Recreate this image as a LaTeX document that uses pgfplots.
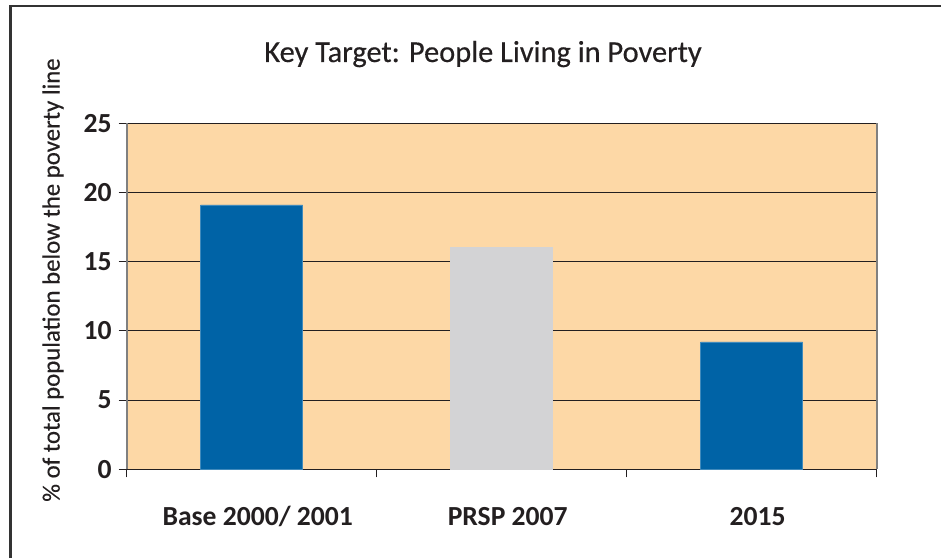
\documentclass[border=0pt]{standalone}
\usepackage{fontspec}
\setmainfont{Carlito}
\newfontfamily\medfont[FakeBold=0.4]{Carlito}
\usepackage{pgfplots}
\pgfplotsset{compat=1.18}

\definecolor{framegray}{RGB}{51,51,51}
\definecolor{plotbg}{RGB}{253,216,166}
\definecolor{barblue}{RGB}{0,99,166}
\definecolor{bargray}{RGB}{211,211,213}
\definecolor{textdark}{RGB}{35,31,32}

\begin{document}
\begin{tikzpicture}
% page: 941 x 558 px at 0.5pt per px
\path[use as bounding box] (0,0) rectangle (470.5pt,279pt);
\draw[framegray, line width=1.3pt] (5.25pt,0pt) -- (5.25pt,276pt) -- (470.5pt,276pt);

\begin{axis}[
  at={(63.35pt,44.35pt)}, anchor=south west,
  scale only axis,
  width=375pt, height=173pt,
  xmin=-0.5, xmax=2.5,
  ymin=0, ymax=25,
  xtick={0,1,2},
  xticklabels={Base 2000/ 2001, PRSP 2007, 2015},
  minor xtick={-0.5,0.5,1.5,2.5},
  ytick={0,5,10,15,20,25},
  xtick pos=bottom, ytick pos=left,
  tick align=outside,
  major x tick style={draw=none},
  minor x tick style={textdark, line width=0.5pt},
  minor tick length=4pt,
  major tick length=4pt,
  y tick style={textdark, line width=0.5pt},
  separate axis lines,
  x axis line style={textdark, line width=0.6pt},
  y axis line style={gray, line width=0.8pt},
  ymajorgrids,
  grid style={textdark, line width=0.45pt},
  axis background/.style={fill=plotbg},
  /pgf/number format/assume math mode=true,
  ticklabel style={font=\fontsize{13.8}{16}\selectfont\bfseries, text=textdark},
  xticklabel style={anchor=base, yshift=-24.3pt, xshift=3pt},
  ybar, bar width=0.408, bar shift=0pt,
]
\addplot[fill=barblue, draw=barblue!75!white, line width=0.4pt] coordinates {(0,19.1) (2,9.2)};
\addplot[fill=bargray, draw=bargray, line width=0.4pt] coordinates {(1,16.0)};
\end{axis}

\node[anchor=base, text=textdark, font=\medfont\fontsize{15.2}{18}\selectfont] at (241.5pt,248pt) {Key Target: People Living in Poverty};
\node[rotate=90, text=textdark, font=\medfont\fontsize{12.4}{15}\selectfont] at (26.5pt,139pt) {\% of total population below the poverty line};
\end{tikzpicture}
\end{document}
